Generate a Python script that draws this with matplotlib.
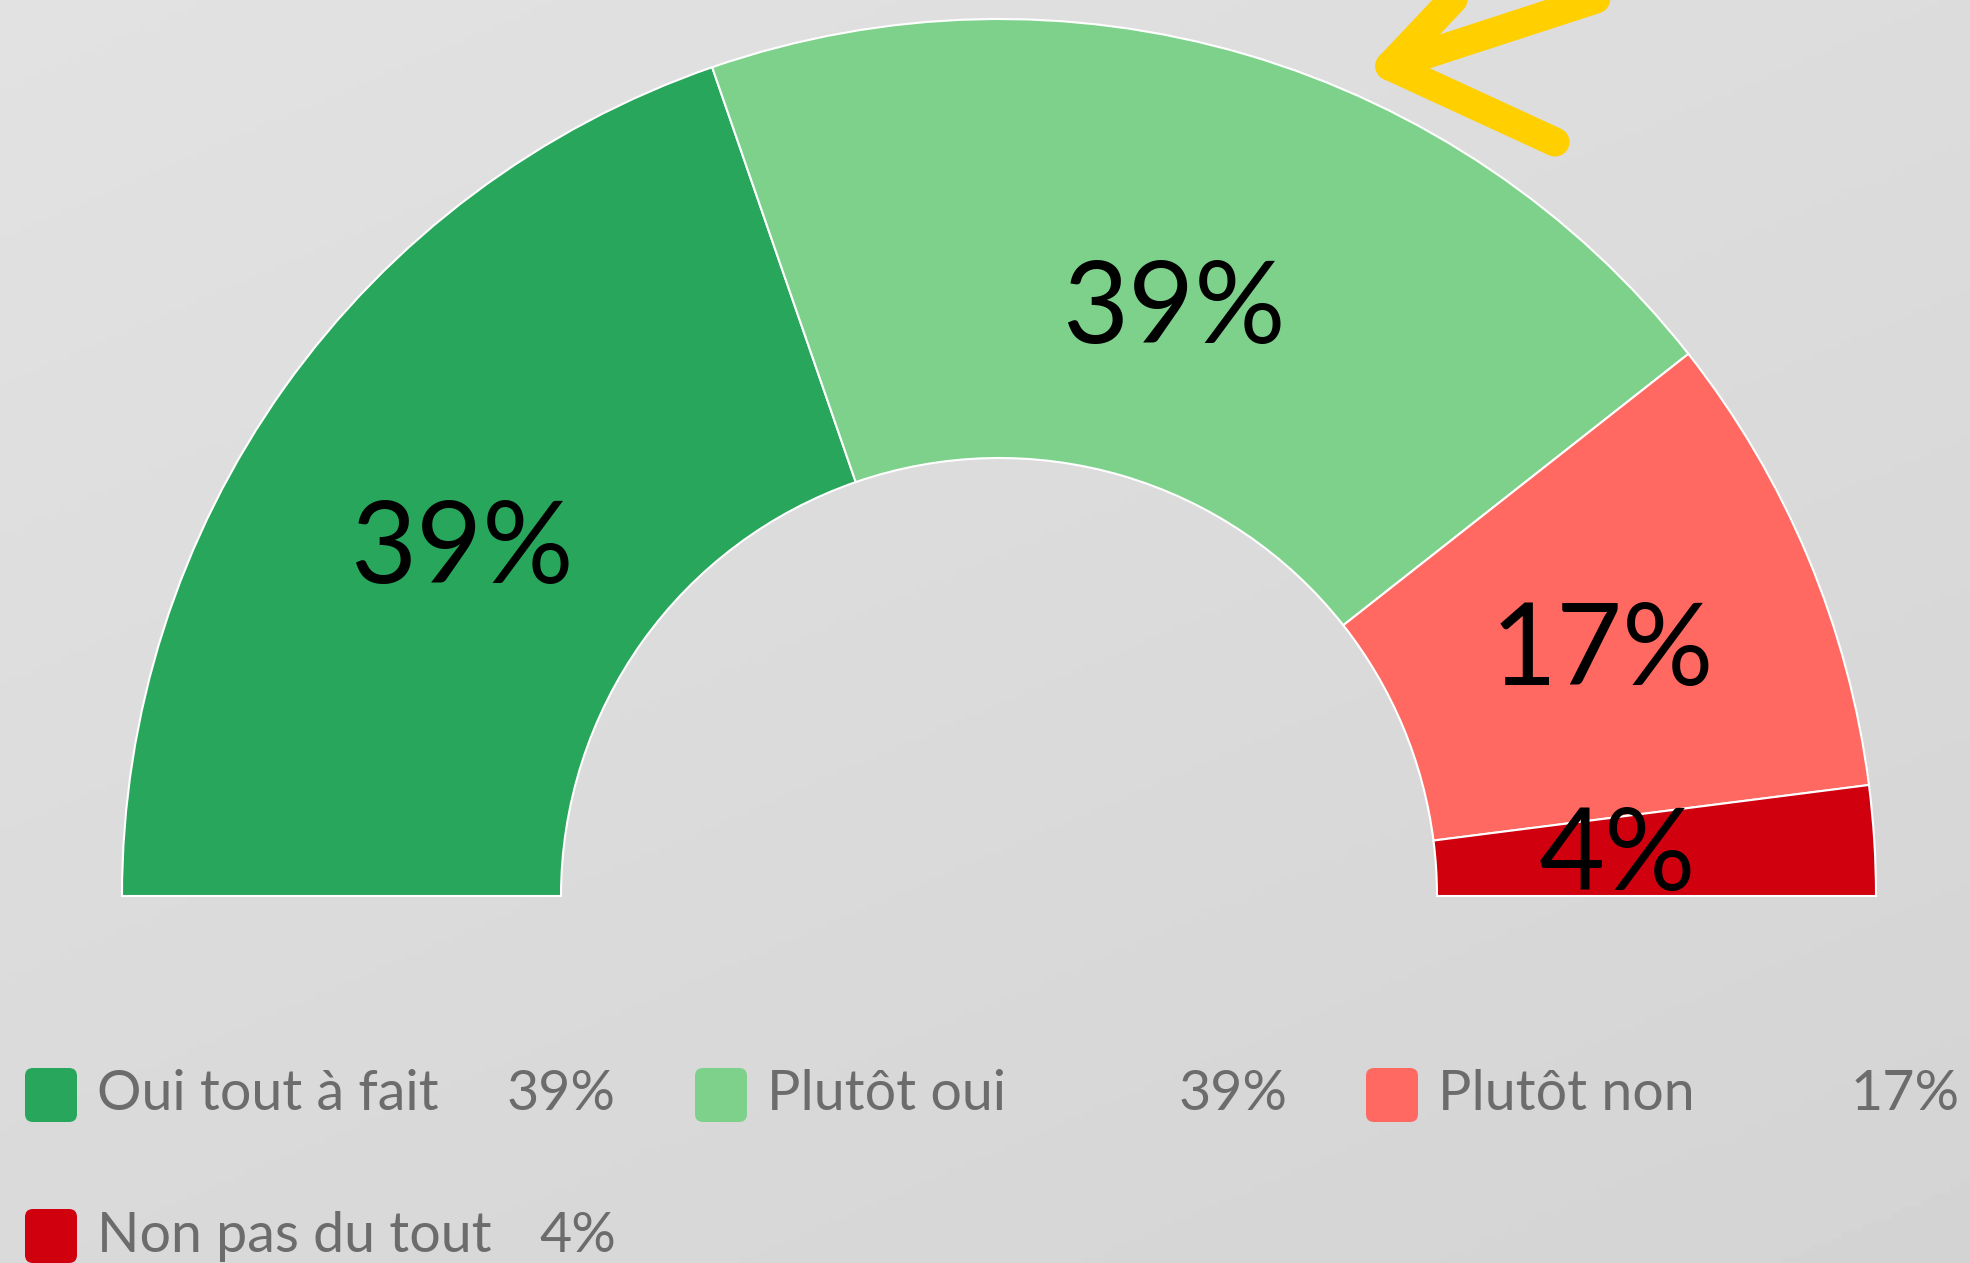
import numpy as np
import matplotlib.pyplot as plt
from matplotlib.patches import FancyBboxPatch

plt.rcParams['font.family'] = ['Lato', 'DejaVu Sans']

# Survey answers
labels = ["Oui tout à fait", "Plutôt oui", "Plutôt non", "Non pas du tout"]
values = [39, 39, 17, 4]
pct_labels = ["39%", "39%", "17%", "4%"]
colors = ["#28a65b", "#7dd18b", "#ff6961", "#d0000f"]

W, H = 1970, 1263
fig = plt.figure(figsize=(W / 100, H / 100), dpi=100)

# gradient background
bg = fig.add_axes([0, 0, 1, 1])
yy, xx = np.mgrid[0:1:200j, 0:1:200j]
grad = 0.885 - 0.055 * (0.6 * yy + 0.4 * xx)
bg.imshow(grad, cmap='gray', vmin=0, vmax=1, aspect='auto', extent=[0, 1, 0, 1])
bg.axis('off')

ax = fig.add_axes([0, 0, 1, 1])
ax.patch.set_alpha(0)

# half donut: hidden second half makes the visible part span 180 degrees
cx, cy = 999, H - 896
r_out, r_in = 877, 438
wedges, _ = ax.pie(values + [sum(values)], colors=colors + ['none'],
                   startangle=180, counterclock=False, radius=r_out,
                   center=(cx, cy), frame=True,
                   wedgeprops=dict(width=r_out - r_in, edgecolor='white', linewidth=1.5))
wedges[-1].set_edgecolor('none')

# label placement (radius, angle tweak)
lab_r = [644, 620, 654, 620]
lab_da = [2.0, 0.0, 0.0, 0.8]
for w, txt, r, da in zip(wedges[:-1], pct_labels, lab_r, lab_da):
    mid = np.deg2rad((w.theta1 + w.theta2) / 2 + da)
    ax.text(cx + r * np.cos(mid), cy + r * np.sin(mid) - 10, txt,
            ha='center', va='center', fontsize=82, color='black')

# yellow hand-drawn arrow
tip = (1390, H - 66)
for end in [(1608, H + 5), (1457, H + 5), (1555, H - 142)]:
    ax.plot([tip[0], end[0]], [tip[1], end[1]], color='#ffcf00', lw=21,
            solid_capstyle='round', zorder=5)

# legend
col_x = [25, 695, 1366]
pct_right = [616, 1288, 1960]
row_y = [H - 1095, H - 1236]
for i, (lab, txt, col) in enumerate(zip(labels, pct_labels, colors)):
    r, c = divmod(i, 3)
    y = row_y[r]
    box = FancyBboxPatch((col_x[c], y - 27), 52, 54,
                         boxstyle='round,pad=0,rounding_size=8',
                         facecolor=col, edgecolor='none')
    ax.add_patch(box)
    ax.text(col_x[c] + 72, y, lab, ha='left', va='center', fontsize=40, color='#6c6c6c')
    ax.text(pct_right[c], y, txt, ha='right', va='center', fontsize=40, color='#6c6c6c')

ax.set_xlim(0, W)
ax.set_ylim(0, H)
ax.set_aspect('auto')
ax.axis('off')

fig.savefig("out.png", dpi=100)
